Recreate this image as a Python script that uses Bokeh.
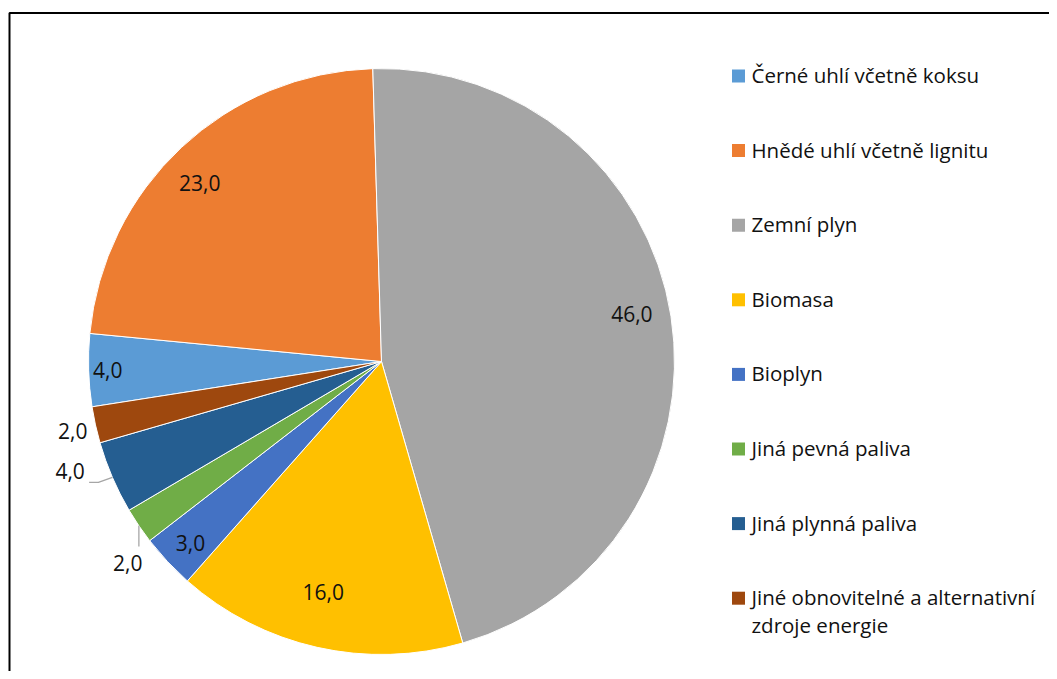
import numpy as np
from bokeh.plotting import figure
from bokeh.models import Range1d, ColumnDataSource
from bokeh.core.properties import value
from bokeh.embed import file_html
from bokeh.resources import INLINE

# ---- data ----
categories = [
    "Černé uhlí včetně koksu",
    "Hnědé uhlí včetně lignitu",
    "Zemní plyn",
    "Biomasa",
    "Bioplyn",
    "Jiná pevná paliva",
    "Jiná plynná paliva",
    "Jiné obnovitelné a alternativní\nzdroje energie",
]
shares = [4.0, 23.0, 46.0, 16.0, 3.0, 2.0, 4.0, 2.0]
colors = ["#5B9BD5", "#ED7D31", "#A5A5A5", "#FFC000",
          "#4472C4", "#70AD47", "#255E91", "#9E480E"]

# ---- layout / style ----
W, H = 1049, 671
def dy(page_y):               # picture y -> data y
    return H - page_y

CX, CY = 381.0, dy(361.0)
R = 293.0
FIRST_ANGLE = 261.1           # degrees clockwise from 12 o'clock

# label placement: radial factor and angular nudge (deg) per slice
lab_rf = [0.935, 0.87, 0.87, 0.81, 0.90, 1.105, 1.126, 1.08]
lab_dt = [0.0, -2.4, -1.9, 1.5, -0.5, -4.3, 4.0, -0.1]

FONT = "Open Sans"
TXT = "#111111"

p = figure(width=W, height=H, output_backend="svg", toolbar_location=None,
           x_range=Range1d(0, W), y_range=Range1d(0, H),
           min_border=0, outline_line_color=None)
p.axis.visible = False
p.grid.visible = False
p.background_fill_color = "white"
p.border_fill_color = "white"

# chart border (left and top edges visible)
BX, BY = 9.0, dy(12.5)
p.line([BX, BX, W + 10], [-10, BY, BY], line_color="black", line_width=2)

# pie geometry
vals = np.array(shares)
frac = vals / vals.sum()
cum = np.concatenate([[0], np.cumsum(frac)]) * 360.0
th_start = FIRST_ANGLE + cum[:-1]
th_end = FIRST_ANGLE + cum[1:]
th_mid = (th_start + th_end) / 2

src = ColumnDataSource(dict(
    start=np.radians(90 - th_start), end=np.radians(90 - th_end),
    color=colors, x=[CX] * len(vals), y=[CY] * len(vals)))
p.wedge(x="x", y="y", radius=R, start_angle="start", end_angle="end",
        direction="clock", fill_color="color", line_color="white",
        line_width=1, source=src)

# data labels
lab_th = np.radians(th_mid + np.array(lab_dt))
lx = CX + np.array(lab_rf) * R * np.sin(lab_th)
ly = CY + np.array(lab_rf) * R * np.cos(lab_th)
texts = [f"{v:.1f}".replace(".", ",") for v in shares]
p.text(x=lx, y=ly, text=texts, text_align="center", text_baseline="middle",
       text_font=value(FONT), text_font_size="21px", text_color=TXT)

# leader lines for outside labels
mid_r = np.radians(th_mid)
ex = CX + R * np.sin(mid_r)
ey = CY + R * np.cos(mid_r)
i = 5   # Jiná pevná paliva: vertical drop
p.line([ex[i], ex[i]], [ey[i], ly[i] + 16], line_color="#A6A6A6", line_width=1.3)
i = 6   # Jiná plynná paliva: elbow
p.line([ex[i], ex[i] - 14, lx[i] + 19], [ey[i], ey[i] - 5, ey[i] - 5],
       line_color="#A6A6A6", line_width=1.3)

# legend
LEG_X = 738.0
LEG_Y0 = 75.5
LEG_DY = 74.6
rows = np.arange(len(categories))
ry = np.array([dy(LEG_Y0 + k * LEG_DY) for k in rows])
p.rect(x=[LEG_X] * len(rows), y=ry, width=13, height=13,
       fill_color=colors, line_color=None)
p.text(x=[LEG_X + 13] * len(rows), y=ry + 15, text=categories,
       text_align="left", text_baseline="top",
       text_font=value(FONT), text_font_size="20.5px", text_color=TXT,
       text_line_height=1.0)

open("out.html", "w").write(file_html(p, INLINE))
